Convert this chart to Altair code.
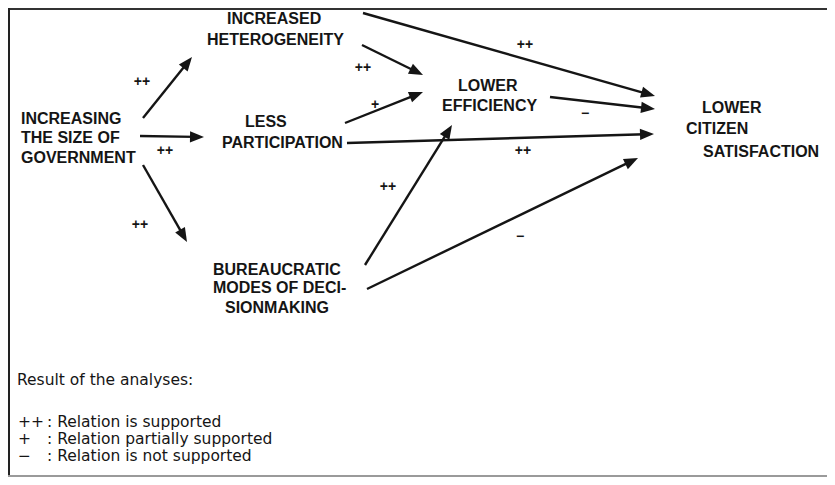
import math
import altair as alt
import pandas as pd

# ---- node labels (one entry per text line) ----
label_text = ["INCREASED", "HETEROGENEITY",
              "INCREASING", "THE SIZE OF", "GOVERNMENT",
              "LESS", "PARTICIPATION",
              "LOWER", "EFFICIENCY",
              "LOWER", "CITIZEN", "SATISFACTION",
              "BUREAUCRATIC", "MODES OF DECI-", "SIONMAKING"]
label_x = [227, 207, 21, 21, 21, 245, 222, 458, 442, 702, 686, 703, 213, 213, 225]
label_y = [24, 45, 124, 143, 163, 127, 148, 91, 111, 113, 134, 157, 275, 293, 313]

# ---- arrows: start and tip ----
edge_x1 = [143, 140, 143, 362, 345, 363, 550, 347, 365, 367]
edge_y1 = [118, 136, 165, 45, 123, 13, 97, 143, 265, 289]
edge_x2 = [192, 204, 187, 423, 423, 655, 655, 654, 452, 638]
edge_y2 = [57, 137, 242, 75, 92, 96, 109, 134, 125, 158]

# ---- result signs on arrows ----
sign_text = ["++", "++", "++", "++", "+", "++", "++", "\u2212", "++", "\u2212"]
sign_x = [142, 165, 140, 363, 375, 388, 525, 585, 523, 520]
sign_y = [82, 151, 225, 68, 105, 187, 45, 114, 151, 237]

# ---- legend ----
legend_title = "Result of the analyses:"
legend_sym = ["++", "+", "\u2212"]
legend_desc = [": Relation is supported", ": Relation partially supported",
               ": Relation is not supported"]
legend_y = [427, 444, 461]

W, H = 819, 469
XD = [8, 8 + W]
YD = [8, 8 + H]

def X(f):
    return alt.X(f, type="quantitative", scale=alt.Scale(domain=XD, nice=False, zero=False), axis=None)

def Y(f):
    return alt.Y(f, type="quantitative", scale=alt.Scale(domain=YD, nice=False, zero=False, reverse=True), axis=None)

# edges table
rows = []
for a, b, c, d in zip(edge_x1, edge_y1, edge_x2, edge_y2):
    dx, dy = c - a, d - b
    L = math.hypot(dx, dy)
    ux, uy = dx / L, dy / L
    ang = math.degrees(math.atan2(dx, -dy)) % 360
    rows.append({"x": a, "y": b, "xe": c - 9 * ux, "ye": d - 9 * uy,
                 "tx": c, "ty": d, "angle": ang})
edges = pd.DataFrame(rows)

labels = pd.DataFrame({"t": label_text, "x": label_x, "y": label_y})
signs = pd.DataFrame({"t": sign_text, "x": sign_x, "y": sign_y})
leg_sym = pd.DataFrame({"t": legend_sym, "x": [18] * 3, "y": legend_y})
leg_desc = pd.DataFrame({"t": legend_desc, "x": [47] * 3, "y": legend_y})
leg_title = pd.DataFrame({"t": [legend_title], "x": [17], "y": [385]})

ink = "#151515"

lines = alt.Chart(edges).mark_rule(color=ink, strokeWidth=2.4).encode(
    x=X("x"), y=Y("y"), x2="xe", y2="ye")

heads = alt.Chart(edges).mark_point(
    shape="M0,0L0.8,2L-0.8,2Z", filled=True, opacity=1, color=ink, size=196, strokeWidth=0
).encode(x=X("tx"), y=Y("ty"), angle=alt.Angle("angle:Q", scale=None))

node_text = alt.Chart(labels).mark_text(
    align="left", baseline="alphabetic", font="Liberation Sans", fontSize=16,
    fontWeight="bold", color=ink
).encode(x=X("x"), y=Y("y"), text="t:N")

sign_marks = alt.Chart(signs).mark_text(
    align="center", baseline="middle", font="Liberation Sans", fontSize=14,
    fontWeight="bold", color=ink
).encode(x=X("x"), y=Y("y"), text="t:N")

legend_font = dict(align="left", baseline="alphabetic", font="DejaVu Sans",
                   fontSize=15.5, color=ink)
lt = alt.Chart(leg_title).mark_text(**legend_font).encode(x=X("x"), y=Y("y"), text="t:N")
ls = alt.Chart(leg_sym).mark_text(**legend_font).encode(x=X("x"), y=Y("y"), text="t:N")
ld = alt.Chart(leg_desc).mark_text(**legend_font).encode(x=X("x"), y=Y("y"), text="t:N")

# frame (top, left, bottom)
frame = pd.DataFrame({
    "x": [8, 9, 8], "y": [9, 8, YD[1] - 1],
    "x2": [XD[1], 9, XD[1]], "y2": [9, YD[1], YD[1] - 1],
    "c": ["top", "left", "bottom"]})
frame_marks = alt.Chart(frame).mark_rule(strokeWidth=2).encode(
    x=X("x"), y=Y("y"), x2="x2", y2="y2",
    color=alt.Color("c:N", scale=alt.Scale(domain=["top", "left", "bottom"],
                                            range=["#333333", "#222222", "#9a9a9a"]), legend=None))

chart = alt.layer(frame_marks, lines, heads, node_text, sign_marks, lt, ls, ld).properties(
    width=W, height=H, padding=0, autosize=alt.AutoSizeParams(type="none"),
    background="white"
).configure_view(stroke=None)

chart.save("out.html", embed_options={"renderer": "svg", "actions": False})
